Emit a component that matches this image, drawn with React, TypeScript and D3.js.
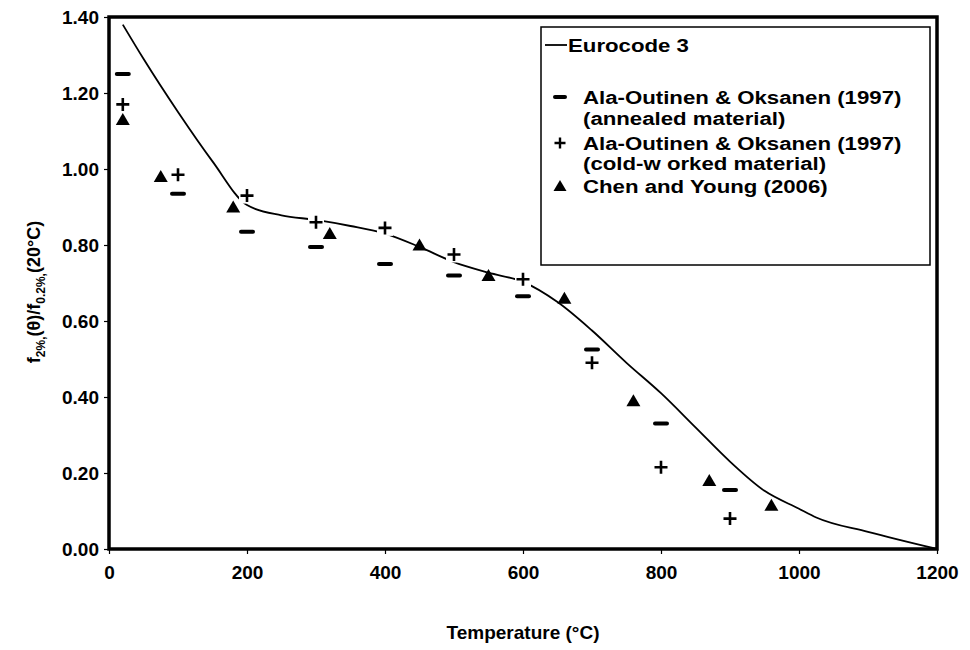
import React, { useRef, useEffect } from 'react';
import * as d3 from 'd3';

// Eurocode 3 curve
const eurocodeTemps = [20, 50, 100, 150, 200, 250, 300, 350, 400, 450, 500, 550, 600, 650, 700, 750, 800, 850, 900, 950, 1000, 1025, 1100, 1200];
const eurocodeValues = [1.38, 1.29, 1.15, 1.02, 0.905, 0.878, 0.866, 0.85, 0.83, 0.795, 0.755, 0.727, 0.703, 0.65, 0.575, 0.49, 0.41, 0.32, 0.23, 0.153, 0.106, 0.083, 0.045, 0];

// Ala-Outinen & Oksanen (1997), annealed
const annealedTemps = [20, 100, 200, 300, 400, 500, 600, 700, 800, 900];
const annealedValues = [1.25, 0.935, 0.835, 0.795, 0.75, 0.72, 0.665, 0.525, 0.33, 0.155];

// Ala-Outinen & Oksanen (1997), cold-worked
const coldTemps = [20, 100, 200, 300, 400, 500, 600, 700, 800, 900];
const coldValues = [1.17, 0.985, 0.93, 0.86, 0.845, 0.775, 0.71, 0.49, 0.215, 0.08];

// Chen and Young (2006)
const chenTemps = [20, 75, 180, 320, 450, 550, 660, 760, 870, 960];
const chenValues = [1.13, 0.98, 0.9, 0.83, 0.8, 0.72, 0.66, 0.39, 0.18, 0.115];

const xTicks = [0, 200, 400, 600, 800, 1000, 1200];
const yTicks = [0, 0.2, 0.4, 0.6, 0.8, 1.0, 1.2, 1.4];

const legendLabels = [
  ['Eurocode 3'],
  ['Ala-Outinen & Oksanen (1997)', '(annealed material)'],
  ['Ala-Outinen & Oksanen (1997)', '(cold-w orked material)'],
  ['Chen and Young (2006)'],
];

const FONT = '"Liberation Sans", Arial, sans-serif';

const App = () => {
  const svgRef = useRef<SVGSVGElement>(null);

  useEffect(() => {
    const svg = d3.select(svgRef.current);
    svg.selectAll('*').remove();

    const width = 970;
    const height = 650;
    const margin = { top: 17, right: 33, bottom: 101, left: 109 };

    const x = d3.scaleLinear().domain([0, 1200]).range([margin.left, width - margin.right]);
    const y = d3.scaleLinear().domain([0, 1.4]).range([height - margin.bottom, margin.top]);

    svg.append('rect').attr('width', width).attr('height', height).attr('fill', '#fff');

    // axes
    const xAxis = d3.axisBottom(x).tickValues(xTicks).tickFormat(d3.format('d')).tickSize(5).tickPadding(12);
    const yAxis = d3.axisLeft(y).tickValues(yTicks).tickFormat(d3.format('.2f')).tickSize(5).tickPadding(5);

    const gx = svg.append('g')
      .attr('transform', `translate(0,${height - margin.bottom})`)
      .call(xAxis);
    const gy = svg.append('g')
      .attr('transform', `translate(${margin.left},0)`)
      .call(yAxis);

    [gx, gy].forEach(g => {
      g.select('.domain').remove();
      g.selectAll('.tick line').attr('stroke', '#000').attr('stroke-width', 1.2);
      g.selectAll('.tick text')
        .style('font-family', FONT)
        .style('font-weight', 'bold')
        .style('font-size', '19px')
        .attr('fill', '#000');
    });

    // eurocode curve
    const line = d3.line<number>()
      .x((d, i) => x(eurocodeTemps[i]))
      .y(d => y(d))
      .curve(d3.curveMonotoneX);

    svg.append('path')
      .datum(eurocodeValues)
      .attr('fill', 'none')
      .attr('stroke', '#000')
      .attr('stroke-width', 1.8)
      .attr('d', line);

    // white backgrounds behind plus markers (cuts the curve like the original)
    svg.append('g').selectAll('rect')
      .data(coldValues)
      .enter()
      .append('rect')
      .attr('x', (d, i) => x(coldTemps[i]) - 8)
      .attr('y', d => y(d) - 8)
      .attr('width', 16)
      .attr('height', 16)
      .attr('fill', '#fff');

    // annealed: dash
    svg.append('g').selectAll('line')
      .data(annealedValues)
      .enter()
      .append('line')
      .attr('x1', (d, i) => x(annealedTemps[i]) - 6)
      .attr('x2', (d, i) => x(annealedTemps[i]) + 6)
      .attr('y1', d => y(d))
      .attr('y2', d => y(d))
      .attr('stroke', '#000')
      .attr('stroke-width', 4)
      .attr('stroke-linecap', 'round');

    // cold-worked: plus
    svg.append('g').selectAll('path')
      .data(coldValues)
      .enter()
      .append('path')
      .attr('transform', (d, i) => `translate(${x(coldTemps[i])},${y(d)})`)
      .attr('d', 'M-6.5,0H6.5M0,-6.5V6.5')
      .attr('stroke', '#000')
      .attr('stroke-width', 2.6);

    // chen and young: triangle
    svg.append('g').selectAll('path')
      .data(chenValues)
      .enter()
      .append('path')
      .attr('transform', (d, i) => `translate(${x(chenTemps[i])},${y(d)})`)
      .attr('d', 'M0,-6.5L7,5.5L-7,5.5Z')
      .attr('fill', '#000');

    // plot frame
    svg.append('rect')
      .attr('x', margin.left)
      .attr('y', margin.top)
      .attr('width', width - margin.left - margin.right)
      .attr('height', height - margin.top - margin.bottom)
      .attr('fill', 'none')
      .attr('stroke', '#000')
      .attr('stroke-width', 3.5);

    // legend
    const lg = svg.append('g');
    lg.append('rect')
      .attr('x', 541).attr('y', 27)
      .attr('width', 389).attr('height', 238)
      .attr('fill', '#fff')
      .attr('stroke', '#000')
      .attr('stroke-width', 1.5);

    // original text is a bit wider than Arial, stretch it horizontally
    const textAt = (txt: string, tx: number, ty: number) =>
      lg.append('text')
        .attr('transform', `translate(${tx},${ty}) scale(1.17,1)`)
        .attr('dominant-baseline', 'central')
        .style('font-family', FONT)
        .style('font-weight', 'bold')
        .style('font-size', '19px')
        .text(txt);

    lg.append('line').attr('x1', 545).attr('x2', 567).attr('y1', 45).attr('y2', 45)
      .attr('stroke', '#000').attr('stroke-width', 1.8);
    textAt(legendLabels[0][0], 568, 45);

    const mx = 560;
    const tx = 583;
    lg.append('line').attr('x1', mx - 5).attr('x2', mx + 5).attr('y1', 97).attr('y2', 97)
      .attr('stroke', '#000').attr('stroke-width', 4).attr('stroke-linecap', 'round');
    textAt(legendLabels[1][0], tx, 97);
    textAt(legendLabels[1][1], tx, 118);

    lg.append('path').attr('transform', `translate(${mx},143)`).attr('d', 'M-5.5,0H5.5M0,-5.5V5.5')
      .attr('stroke', '#000').attr('stroke-width', 2.4);
    textAt(legendLabels[2][0], tx, 143);
    textAt(legendLabels[2][1], tx, 163);

    lg.append('path').attr('transform', `translate(${mx},186)`).attr('d', 'M0,-6L6.5,5L-6.5,5Z')
      .attr('fill', '#000');
    textAt(legendLabels[3][0], tx, 186);

    // x title
    svg.append('text')
      .attr('x', 523).attr('y', 632)
      .attr('text-anchor', 'middle')
      .attr('dominant-baseline', 'central')
      .style('font-family', FONT)
      .style('font-weight', 'bold')
      .style('font-size', '19px')
      .text('Temperature (°C)');

    // y title with subscripts
    const yt = svg.append('text')
      .attr('transform', 'translate(40,292) rotate(-90)')
      .attr('text-anchor', 'middle')
      .style('font-family', FONT)
      .style('font-weight', 'bold')
      .style('font-size', '18px');
    yt.append('tspan').text('f');
    yt.append('tspan').attr('dy', 5).style('font-size', '12px').text('2%,');
    yt.append('tspan').attr('dy', -5).text('(θ)/f');
    yt.append('tspan').attr('dy', 5).style('font-size', '12px').text('0.2%,');
    yt.append('tspan').attr('dy', -5).text('(20°C)');
  }, []);

  return (
    <div style={{ position: 'absolute', left: 0, top: 0, width: 970, height: 650 }}>
      <svg ref={svgRef} width={970} height={650} style={{ display: 'block' }}></svg>
    </div>
  );
};

export default App;
